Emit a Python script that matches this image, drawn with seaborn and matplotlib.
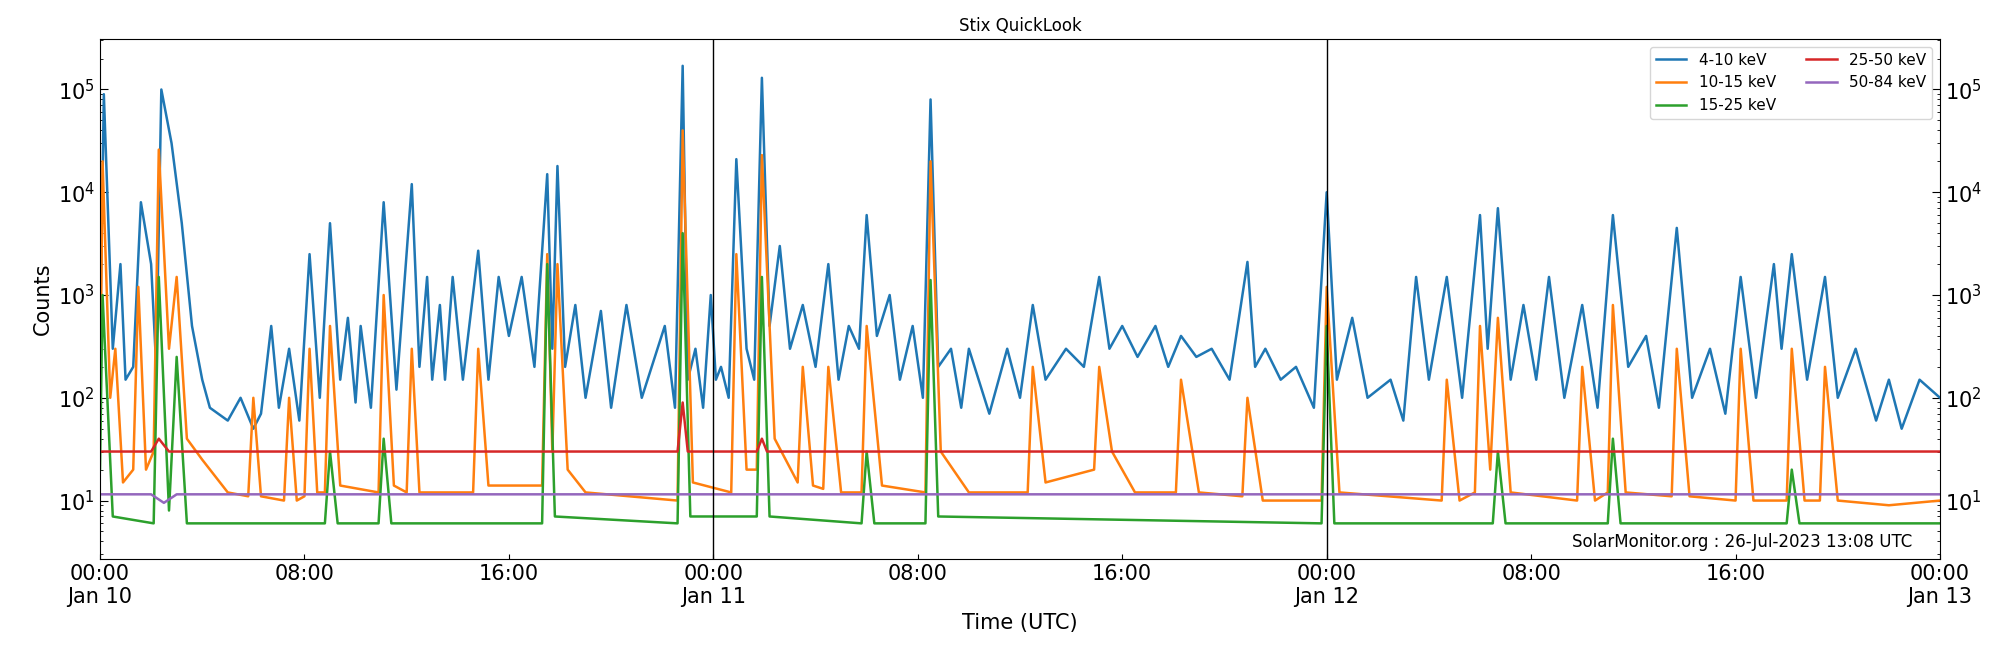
import numpy as np
import pandas as pd
import matplotlib
matplotlib.use("Agg")
import matplotlib.pyplot as plt
import matplotlib.dates as mdates
import seaborn as sns

# ==========================
# Data (hours since 2023-01-10 00:00, counts)
# ==========================
hours_4_10 = [0, 0.15, 0.5, 0.8, 1.0, 1.3, 1.6, 2.0, 2.2, 2.4, 2.8, 3.2, 3.6, 4.0, 4.3, 5.0, 5.5, 6.0,
              6.3, 6.7, 7.0, 7.4, 7.8, 8.2, 8.6, 9.0, 9.4, 9.7, 10.0, 10.2, 10.6, 11.1, 11.6, 12.2, 12.5,
              12.8, 13.0, 13.3, 13.5, 13.8, 14.2, 14.8, 15.2, 15.6, 16.0, 16.5, 17.0, 17.5, 17.7, 17.9,
              18.2, 18.6, 19.0, 19.6, 20.0, 20.6, 21.2, 22.1, 22.5, 22.8, 23.0, 23.3, 23.6, 23.9, 24.1,
              24.3, 24.6, 24.9, 25.3, 25.6, 25.9, 26.2, 26.6, 27.0, 27.5, 28.0, 28.5, 28.9, 29.3, 29.7,
              30.0, 30.4, 30.9, 31.3, 31.8, 32.2, 32.5, 32.8, 33.3, 33.7, 34.0, 34.8, 35.5, 36.0, 36.5,
              37.0, 37.8, 38.5, 39.1, 39.5, 40.0, 40.6, 41.3, 41.8, 42.3, 42.9, 43.5, 44.2, 44.9, 45.2,
              45.6, 46.2, 46.8, 47.5, 48.0, 48.4, 49.0, 49.6, 50.5, 51.0, 51.5, 52.0, 52.7, 53.3, 54.0,
              54.3, 54.7, 55.2, 55.7, 56.2, 56.7, 57.3, 58.0, 58.6, 59.2, 59.8, 60.5, 61.0, 61.7, 62.3,
              63.0, 63.6, 64.2, 64.8, 65.5, 65.8, 66.2, 66.8, 67.5, 68.0, 68.7, 69.5, 70.0, 70.5, 71.2, 72.0]
counts_4_10 = [300, 90000, 300, 2000, 150, 200, 8000, 2000, 200, 100000, 30000, 5000, 500, 150, 80, 60, 100, 50,
               70, 500, 80, 300, 60, 2500, 100, 5000, 150, 600, 90, 500, 80, 8000, 120, 12000, 200,
               1500, 150, 800, 150, 1500, 150, 2700, 150, 1500, 400, 1500, 200, 15000, 300, 18000,
               200, 800, 100, 700, 80, 800, 100, 500, 80, 170000, 150, 300, 80, 1000, 150,
               200, 100, 21000, 300, 150, 130000, 500, 3000, 300, 800, 200, 2000, 150, 500, 300,
               6000, 400, 1000, 150, 500, 100, 80000, 200, 300, 80, 300, 70, 300, 100, 800,
               150, 300, 200, 1500, 300, 500, 250, 500, 200, 400, 250, 300, 150, 2100, 200,
               300, 150, 200, 80, 10000, 150, 600, 100, 150, 60, 1500, 150, 1500, 100, 6000,
               300, 7000, 150, 800, 150, 1500, 100, 800, 80, 6000, 200, 400, 80, 4500, 100,
               300, 70, 1500, 100, 2000, 300, 2500, 150, 1500, 100, 300, 60, 150, 50, 150, 100]

points_10_15 = [(0, 50), (0.1, 20000), (0.4, 100), (0.6, 300), (0.9, 15), (1.3, 20), (1.5, 1200), (1.8, 20),
                (2.1, 30), (2.3, 26000), (2.7, 300), (3.0, 1500), (3.4, 40), (4.0, 25), (5.0, 12),
                (5.8, 11), (6.0, 100), (6.3, 11), (7.2, 10), (7.4, 100), (7.7, 10), (8.0, 11), (8.2, 300),
                (8.5, 12), (8.8, 12), (9.0, 500), (9.4, 14), (10.9, 12), (11.1, 1000), (11.5, 14),
                (12.0, 12), (12.2, 300), (12.5, 12), (14.6, 12), (14.8, 300), (15.2, 14), (17.3, 14),
                (17.5, 2500), (17.7, 30), (17.9, 2000), (18.3, 20), (19.0, 12), (22.6, 10), (22.8, 40000),
                (23.2, 15), (24.7, 12), (24.9, 2500), (25.3, 20), (25.7, 20), (25.9, 23000), (26.4, 40),
                (27.3, 15), (27.5, 200), (27.9, 14), (28.3, 13), (28.5, 200), (29.0, 12), (29.8, 12),
                (30.0, 500), (30.6, 14), (32.3, 12), (32.5, 20000), (32.9, 30), (34.0, 12), (36.3, 12),
                (36.5, 200), (37.0, 15), (38.9, 20), (39.1, 200), (39.6, 30), (40.5, 12), (42.1, 12),
                (42.3, 150), (43.0, 12), (44.7, 11), (44.9, 100), (45.5, 10), (47.8, 10), (48.0, 1200),
                (48.5, 12), (52.5, 10), (52.7, 150), (53.2, 10), (53.8, 12), (54.0, 500), (54.4, 20),
                (54.7, 600), (55.2, 12), (57.8, 10), (58.0, 200), (58.5, 10), (59.0, 12), (59.2, 800),
                (59.7, 12), (61.5, 11), (61.7, 300), (62.2, 11), (64.0, 10), (64.2, 300), (64.7, 10),
                (66.0, 10), (66.2, 300), (66.7, 10), (67.3, 10), (67.5, 200), (68.0, 10), (70.0, 9),
                (72.0, 10)]

points_15_25 = [(0, 20), (0.1, 1000), (0.5, 7), (2.1, 6), (2.3, 1500), (2.7, 8), (3.0, 250), (3.4, 6),
                (8.8, 6), (9.0, 30), (9.3, 6), (10.9, 6), (11.1, 40), (11.4, 6), (17.3, 6), (17.5, 2000),
                (17.8, 7), (22.6, 6), (22.8, 4000), (23.1, 7), (25.7, 7), (25.9, 1500), (26.2, 7),
                (29.8, 6), (30.0, 30), (30.3, 6), (32.3, 6), (32.5, 1400), (32.8, 7), (47.8, 6),
                (48.0, 500), (48.3, 6), (54.5, 6), (54.7, 30), (55.0, 6), (59.0, 6), (59.2, 40),
                (59.5, 6), (66.0, 6), (66.2, 20), (66.5, 6), (72.0, 6)]

hours_25_50 = [0, 2.0, 2.3, 2.7, 22.6, 22.8, 23.0, 25.7, 25.9, 26.1, 72.0]
counts_25_50 = [30, 30, 40, 30, 30, 90, 30, 30, 40, 30, 30]

hours_50_84 = [0, 2.0, 2.5, 3.0, 72.0]
counts_50_84 = [11.5, 11.5, 9.5, 11.5, 11.5]

hours_10_15 = [p[0] for p in points_10_15]
counts_10_15 = [p[1] for p in points_10_15]
hours_15_25 = [p[0] for p in points_15_25]
counts_15_25 = [p[1] for p in points_15_25]

series = [("4-10 keV", hours_4_10, counts_4_10, "#1f77b4"),
          ("10-15 keV", hours_10_15, counts_10_15, "#ff7f0e"),
          ("15-25 keV", hours_15_25, counts_15_25, "#2ca02c"),
          ("25-50 keV", hours_25_50, counts_25_50, "#d62728"),
          ("50-84 keV", hours_50_84, counts_50_84, "#9467bd")]

start = pd.Timestamp("2023-01-10")

# ==========================
# Plot
# ==========================
fig = plt.figure(figsize=(20, 6.5), dpi=100)
ax = fig.add_axes([0.05, 0.14, 0.92, 0.80])

for label, h, c, color in series:
    df = pd.DataFrame({"time": start + pd.to_timedelta(h, unit="h"), "counts": c})
    sns.lineplot(data=df, x="time", y="counts", color=color, label=label, ax=ax, linewidth=1.8)

ax.set_yscale("log")
ax.set_ylim(2.7, 3.1e5)
ax.set_xlim(start, start + pd.Timedelta(hours=72))
for d in [24, 48]:
    ax.axvline(start + pd.Timedelta(hours=d), color="black", linewidth=1)

ticks = pd.date_range(start, periods=10, freq="8h")
labels = []
for t in ticks:
    labels.append(t.strftime("%H:%M") + ("\n" + t.strftime("%b %d").replace(" 0", " ") if t.hour == 0 else ""))
ax.set_xticks(ticks)
ax.set_xticklabels(labels)
ax.tick_params(axis="both", which="both", direction="in", labelsize=15, right=True, labelright=True)
ax.tick_params(axis="y", which="major", length=6)

ax.set_title("Stix QuickLook", fontsize=12)
ax.set_xlabel("Time (UTC)", fontsize=15)
ax.set_ylabel("Counts", fontsize=15)
ax.legend(loc="upper right", ncol=2, fontsize=11)
ax.text(0.985, 0.015, "SolarMonitor.org : 26-Jul-2023 13:08 UTC", transform=ax.transAxes,
        ha="right", va="bottom", fontsize=12)

plt.savefig("out.png")
